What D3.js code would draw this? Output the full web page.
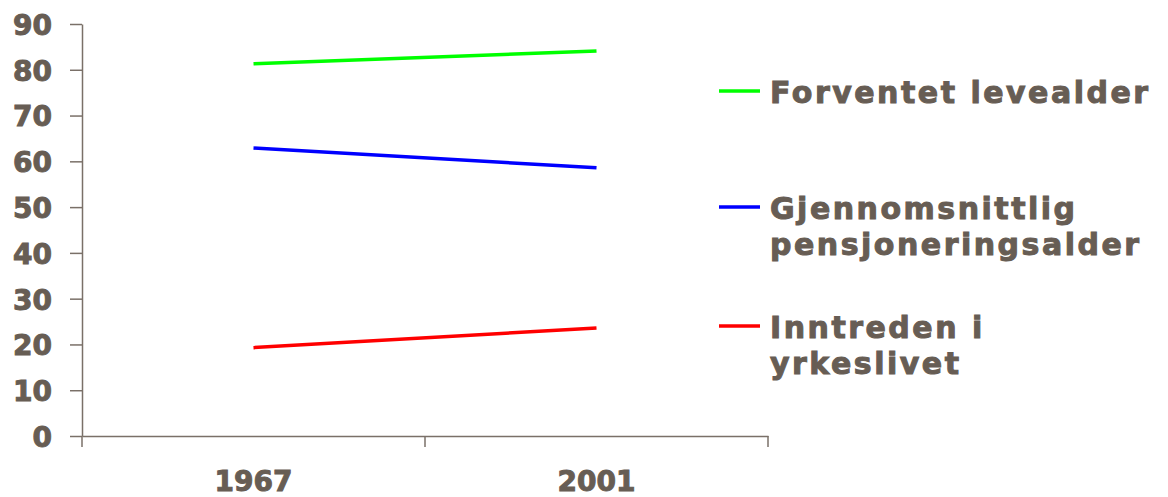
<!DOCTYPE html>
<html>
<head>
<meta charset="utf-8">
<script src="https://cdn.jsdelivr.net/npm/d3@7"></script>
<style>
  body { margin: 0; background: #fff; }
  text { font-family: Verdana, "DejaVu Sans", sans-serif; font-weight: bold; fill: #675d54; stroke: #675d54; stroke-width: 1px; }
</style>
</head>
<body>
<div id="chart"></div>
<script>
// categories and series
const years = ["1967", "2001"];
const levealder = [81.3, 84.1];
const pensjon = [62.9, 58.6];
const inntreden = [19.3, 23.6];
const seriesNames = [["Forventet levealder"], ["Gjennomsnittlig", "pensjoneringsalder"], ["Inntreden i", "yrkeslivet"]];
const yTicks = [0, 10, 20, 30, 40, 50, 60, 70, 80, 90];

const series = [
  { name: seriesNames[0], values: levealder, color: "#00ff00" },
  { name: seriesNames[1], values: pensjon, color: "#0000ff" },
  { name: seriesNames[2], values: inntreden, color: "#ff0000" }
];

const W = 1168, H = 497;
const axisColor = "#7a7068";

const svg = d3.select("#chart")
  .append("svg")
  .attr("width", W)
  .attr("height", H);

// scales
const x = d3.scaleBand().domain(years).range([82, 768]).padding(0);
const y = d3.scaleLinear().domain([0, 90]).range([436, 24]);

// y axis
const yAxis = svg.append("g")
  .attr("transform", "translate(82,0)")
  .call(d3.axisLeft(y).tickValues(yTicks).tickSize(12).tickPadding(18).tickSizeOuter(0));
yAxis.select(".domain").attr("stroke", axisColor).attr("stroke-width", 1.5);
yAxis.selectAll(".tick line").attr("stroke", axisColor).attr("stroke-width", 1.5);
yAxis.selectAll(".tick text").attr("font-size", 28).attr("fill", null).attr("dy", "0.37em");

// x axis: labels centred on bands, ticks on band edges
const xAxis = svg.append("g")
  .attr("transform", "translate(0,436)")
  .call(d3.axisBottom(x).tickSize(0).tickPadding(0).tickSizeOuter(0));
xAxis.select(".domain").attr("stroke", axisColor).attr("stroke-width", 1.5);
xAxis.selectAll(".tick text").attr("font-size", 28).attr("fill", null).attr("y", 55).attr("dy", null);

const edges = years.map(d => x(d)).concat([x.range()[1]]);
xAxis.selectAll(".edge")
  .data(edges)
  .enter()
  .append("line")
  .attr("class", "edge")
  .attr("x1", d => d).attr("x2", d => d)
  .attr("y1", 0).attr("y2", 11)
  .attr("stroke", axisColor)
  .attr("stroke-width", 1.5);

// lines
const line = d3.line()
  .x((d, i) => x(years[i]) + x.bandwidth() / 2)
  .y(d => y(d));

svg.selectAll(".series")
  .data(series)
  .enter()
  .append("path")
  .attr("class", "series")
  .attr("d", d => line(d.values))
  .attr("fill", "none")
  .attr("stroke", d => d.color)
  .attr("stroke-width", 3.5);

// legend
const legendY = [91, 207, 326];
const legend = svg.selectAll(".legend")
  .data(series)
  .enter()
  .append("g")
  .attr("class", "legend")
  .attr("transform", (d, i) => `translate(719,${legendY[i]})`);

legend.append("line")
  .attr("x1", 0).attr("x2", 41)
  .attr("stroke", d => d.color)
  .attr("stroke-width", 3.5);

legend.append("text")
  .attr("x", 51)
  .attr("y", 12)
  .attr("font-size", 30)
  .attr("letter-spacing", 2.5)
  .selectAll("tspan")
  .data(d => d.name)
  .enter()
  .append("tspan")
  .attr("x", 51)
  .attr("dy", (d, i) => i === 0 ? 0 : 36)
  .text(d => d);
</script>
</body>
</html>
